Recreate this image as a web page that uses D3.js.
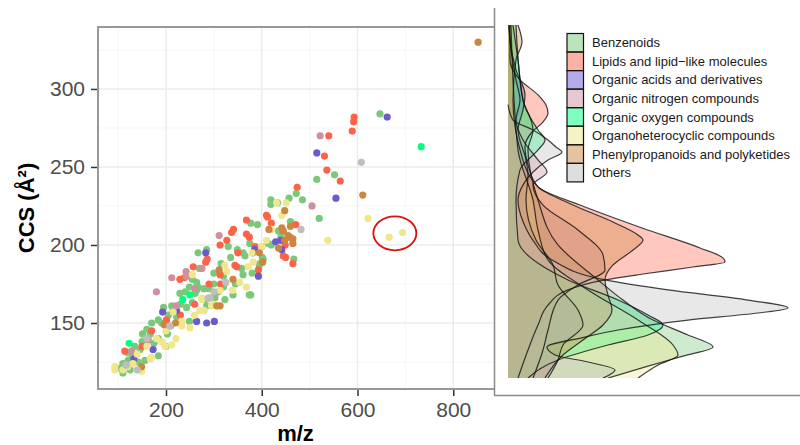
<!DOCTYPE html>
<html>
<head>
<meta charset="utf-8">
<script src="https://d3js.org/d3.v7.min.js"></script>
<style>
  body { margin: 0; background: #fff; }
  svg { font-family: "Liberation Sans", Arial, sans-serif; }
  .grid-major { stroke: #ebebeb; stroke-width: 1.4; }
  .grid-minor { stroke: #f4f4f4; stroke-width: 0.8; }
  .axis text { fill: #4d4d4d; font-size: 21px; }
  .axis line { stroke: #333; stroke-width: 1.5; }
  .axis .domain { display: none; }
</style>
</head>
<body>
<svg id="chart" width="800" height="445"></svg>
<script>
// ---- data ----
const categories = ["Benzenoids", "Lipids and lipid\u2212like molecules", "Organic acids and derivatives",
  "Organic nitrogen compounds", "Organic oxygen compounds", "Organoheterocyclic compounds",
  "Phenylpropanoids and polyketides", "Others"];

const xTicks = [200, 400, 600, 800];
const yTicks = [150, 200, 250, 300];

// scatter points: [m/z, CCS]
const benzenoids = [[647,284],[552,245],[515,242],[472,233],[457,230],[485,229],[419,229],[419,226],[433,227],
  [520,217],[377,214],[391,213],[414,201],[435,209],[401,192],[467,191],[395,187],[377,168],[330,199],
  [375,201],[349,197],[361,195],[365,193],[396,188],[403,191],[358,185],[361,181],[320,180],[374,168],
  [285,197],[267,195],[264,176],[249,173],[267,173],[279,172],[290,172],[309,170],[229,169],[261,169],
  [302,166],[323,165],[264,171],[302,168],[285,161],[212,161],[243,160],[205,155],[191,150],[249,151],
  [222,154],[184,152],[151,143],[167,143],[184,140],[203,143],[184,129],[146,133],[105,121],[125,120],
  [142,125],[156,126],[121,126],[170,150],[195,160],[210,148],[230,162],[240,170],[255,178],[270,185],
  [300,182],[315,188],[335,192],[345,175],[135,135],[150,138],[160,146],[120,131],[110,124],[130,128],
  [175,137],[200,135],[215,158],[255,163],[280,165],[300,175],[320,173],[340,168],[380,182],[420,200],
  [440,205],[460,215],[110,118]];
const lipids = [[593,282],[592,279],[540,270],[589,273],[531,257],[536,248],[564,241],[474,237],[412,218],
  [471,213],[465,188],[450,192],[386,199],[400,199],[449,200],[410,219],[368,216],[341,210],[337,208],
  [368,207],[374,205],[327,203],[313,200],[286,191],[283,189],[257,186],[229,178],[238,179],[313,181],
  [314,175],[344,187],[348,186],[393,184],[201,152],[114,132],[445,193],[260,162],[230,155],[150,135],
  [170,145],[290,175],[350,195],[420,214]];
const organicAcids = [[662,282],[515,259],[555,230],[429,202],[442,197],[381,195],[393,180],[283,195],
  [264,151],[285,150],[301,151],[193,157],[173,133],[133,127],[440,203],[385,197],[222,158]];
const organicNitrogen = [[522,270],[505,225],[311,206],[275,185],[242,183],[243,180],[212,179],[290,166],
  [221,161],[163,139],[128,132],[180,170],[260,172]];
const organicOxygen = [[733,263],[250,168],[235,165],[123,137]];
const organoheterocyclic = [[666,205],[694,208],[622,217],[538,203],[431,227],[451,227],[442,219],[400,199],
  [382,189],[372,186],[323,187],[327,183],[255,181],[354,176],[368,173],[275,166],[313,171],[339,171],
  [275,165],[295,161],[271,158],[215,157],[233,151],[233,148],[250,147],[191,138],[198,135],[212,136],
  [221,140],[93,122],[149,119],[131,124],[167,127],[93,120],[110,120],[120,122],[140,130],[160,135],
  [180,140],[200,145],[260,155],[280,158],[300,162],[170,128],[380,195],[420,210],[410,203]];
const phenylpropanoids = [[852,330],[611,232],[448,222],[415,210],[442,211],[445,209],[455,206],[459,205],
  [465,204],[465,201],[448,203],[435,198],[402,189],[395,195],[311,184],[313,161],[196,149],[149,122],
  [306,161],[220,150],[340,178],[460,212]];
const others = [[608,253],[482,210],[325,176],[288,166],[292,166],[208,148],[117,123],[300,170],[160,140],[140,120]];

const pointSets = [benzenoids, lipids, organicAcids, organicNitrogen, organicOxygen,
  organoheterocyclic, phenylpropanoids, others];

// density profiles of CCS per class: [CCS, density]
const benzenoidsDens = [[341,0.001],[318.6,0.002],[292.9,0.003],[273.7,0.005],[260.9,0.004],[228.8,0.006],
  [200,0.010],[177.6,0.018],[164.7,0.023],[151.9,0.029],[142.3,0.036],[134.6,0.041],[128.8,0.035],
  [122.4,0.028],[114.7,0.020]];
const lipidsDens = [[341,0.0004],[318.6,0.0004],[305.8,0.0024],[296.2,0.006],[289.7,0.0076],[284.6,0.008],
  [278.8,0.007],[272.4,0.0048],[262.8,0.0034],[251.3,0.004],[237.2,0.006],[225.6,0.0144],[210.9,0.0268],
  [198.1,0.0384],[191.7,0.043],[189.1,0.0434],[185.9,0.037],[181.4,0.027],[177.6,0.0194],[171.2,0.012],
  [161.5,0.008],[148.7,0.006],[132.7,0.004],[114.7,0.002]];
const organicAcidsDens = [[341,0.0002],[331.4,0.0004],[312.2,0.0016],[296.2,0.0034],[286.5,0.003],[273.7,0.002],
  [254.5,0.0036],[244.9,0.004],[228.8,0.0036],[203.2,0.0056],[187.2,0.009],[174.4,0.010],[158.3,0.014],
  [148.7,0.015],[135.9,0.011],[126.3,0.010],[114.7,0.008]];
const organicNitrogenDens = [[341,0.0002],[331.4,0.0004],[305.8,0.0016],[292.9,0.0024],[280.1,0.0016],
  [267.3,0.003],[254.5,0.006],[246.8,0.0078],[238.5,0.005],[225.6,0.007],[209.6,0.014],[193.6,0.019],
  [184,0.0194],[174.4,0.014],[164.7,0.010],[145.5,0.008],[132.7,0.007],[114.7,0.005]];
const organicOxygenDens = [[341,0.0016],[292.9,0.003],[273.7,0.006],[267.3,0.0074],[260.9,0.006],[248.1,0.0024],
  [228.8,0.0016],[203.2,0.002],[177.6,0.012],[164.7,0.022],[155.1,0.028],[148.7,0.031],[142.3,0.028],
  [135.9,0.020],[126.3,0.010],[114.7,0.004]];
const organoheterocyclicDens = [[341,0.0006],[260.9,0.002],[228.8,0.005],[209.6,0.006],[190.4,0.008],
  [171.2,0.016],[151.9,0.026],[135.9,0.033],[129.5,0.034],[123.1,0.030],[114.7,0.026]];
const phenylpropanoidsDens = [[341,0.002],[330.1,0.0028],[318.6,0.0016],[292.9,0.001],[260.9,0.0024],
  [237.2,0.006],[225.6,0.013],[214.7,0.021],[206.4,0.026],[203.2,0.027],[196.8,0.025],[187.2,0.021],
  [177.6,0.0194],[167.9,0.020],[158.3,0.0208],[148.7,0.019],[139.1,0.015],[129.5,0.011],[114.7,0.0074]];
const othersDens = [[290,0],[280.1,0.001],[273.7,0.005],[267.3,0.008],[262.8,0.0096],[259.6,0.0108],
  [254.5,0.008],[246.8,0.005],[238.5,0.003],[228.8,0.002],[215,0.003],[203,0.005],[190.4,0.0088],
  [177.6,0.0194],[171.2,0.032],[164.7,0.048],[159.6,0.056],[156.4,0.050],[151.9,0.036],[145.5,0.022],
  [141,0.0154],[134.6,0.0078],[129.5,0.0094],[125,0.016],[119.9,0.0214],[114.7,0.019]];

const densSets = [benzenoidsDens, lipidsDens, organicAcidsDens, organicNitrogenDens, organicOxygenDens,
  organoheterocyclicDens, phenylpropanoidsDens, othersDens];

// ---- styles ----
const pointColors = ["#7bc87b", "#ff6347", "#6a5acd", "#cd919e", "#00ff7f", "#f0e68c", "#cd853f", "#bebebe"];

const svg = d3.select("#chart");
const panel = {left: 98, right: 493, top: 27, bottom: 389};

const xScale = d3.scaleLinear().domain([58, 883]).range([panel.left, panel.right]);
const yScale = d3.scaleLinear().domain([107.7, 339.7]).range([panel.bottom, panel.top]);

// gridlines
const gridG = svg.append("g");
[100, 300, 500, 700].forEach(v => gridG.append("line").attr("class", "grid-minor")
  .attr("x1", xScale(v)).attr("x2", xScale(v)).attr("y1", panel.top).attr("y2", panel.bottom));
[125, 175, 225, 275, 325].forEach(v => gridG.append("line").attr("class", "grid-minor")
  .attr("x1", panel.left).attr("x2", panel.right).attr("y1", yScale(v)).attr("y2", yScale(v)));
xTicks.forEach(v => gridG.append("line").attr("class", "grid-major")
  .attr("x1", xScale(v)).attr("x2", xScale(v)).attr("y1", panel.top).attr("y2", panel.bottom));
yTicks.forEach(v => gridG.append("line").attr("class", "grid-major")
  .attr("x1", panel.left).attr("x2", panel.right).attr("y1", yScale(v)).attr("y2", yScale(v)));

// points
svg.append("clipPath").attr("id", "panelClip").append("rect")
  .attr("x", panel.left).attr("y", panel.top)
  .attr("width", panel.right - panel.left).attr("height", panel.bottom - panel.top);
const pts = svg.append("g").attr("clip-path", "url(#panelClip)");
pointSets.forEach((set, i) => {
  pts.selectAll(null).data(set).enter().append("circle")
    .attr("cx", d => xScale(d[0]))
    .attr("cy", d => yScale(d[1]))
    .attr("r", 3.6)
    .attr("fill", pointColors[i]);
});

// panel border
svg.append("rect")
  .attr("x", panel.left).attr("y", panel.top)
  .attr("width", panel.right - panel.left + 4).attr("height", panel.bottom - panel.top)
  .attr("fill", "none").attr("stroke", "#7f7f7f").attr("stroke-width", 1.6);

// axes
svg.append("g").attr("class", "axis")
  .attr("transform", `translate(${panel.left - 1},0)`)
  .call(d3.axisLeft(yScale).tickValues(yTicks).tickSize(6).tickPadding(6));
svg.append("g").attr("class", "axis")
  .attr("transform", `translate(0,${panel.bottom + 1})`)
  .call(d3.axisBottom(xScale).tickValues(xTicks).tickSize(6).tickPadding(6));

svg.append("text")
  .attr("x", (panel.left + panel.right) / 2).attr("y", 441)
  .attr("text-anchor", "middle").attr("font-weight", "bold").attr("font-size", 22)
  .text("m/z");
svg.append("text")
  .attr("transform", `translate(34,${(panel.top + panel.bottom) / 2}) rotate(-90)`)
  .attr("text-anchor", "middle").attr("font-weight", "bold").attr("font-size", 22)
  .text("CCS (\u00c5\u00b2)");

// highlighted points
svg.append("ellipse")
  .attr("cx", xScale(678)).attr("cy", yScale(207.5))
  .attr("rx", 21.5).attr("ry", 17)
  .attr("fill", "none").attr("stroke", "#e01010").attr("stroke-width", 1.8);

// ---- density panel ----
svg.append("rect").attr("x", 494).attr("y", 0).attr("width", 306).attr("height", 395).attr("fill", "#fff");
svg.append("line").attr("x1", 494.5).attr("x2", 494.5).attr("y1", 8).attr("y2", 395.5)
  .attr("stroke", "#8a8a8a").attr("stroke-width", 1.5);
svg.append("line").attr("x1", 494).attr("x2", 800).attr("y1", 395.5).attr("y2", 395.5)
  .attr("stroke", "#8a8a8a").attr("stroke-width", 1.5);

const dScale = d3.scaleLinear().domain([0, 0.056]).range([508, 788]);
svg.append("clipPath").attr("id", "densClip").append("rect")
  .attr("x", 500).attr("y", 25).attr("width", 300).attr("height", 353);
const densG = svg.append("g").attr("clip-path", "url(#densClip)");
const area = d3.area()
  .y(d => yScale(d[0]))
  .x0(dScale(0))
  .x1(d => dScale(d[1]))
  .curve(d3.curveMonotoneY);
const edge = d3.line()
  .y(d => yScale(d[0]))
  .x(d => dScale(d[1]))
  .curve(d3.curveMonotoneY);
densSets.forEach((set, i) => {
  densG.append("path").attr("d", area(set))
    .attr("fill", pointColors[i]).attr("fill-opacity", 0.36);
});
densSets.forEach((set, i) => {
  densG.append("path").attr("d", edge(set))
    .attr("fill", "none").attr("stroke", "#111").attr("stroke-opacity", 0.8).attr("stroke-width", 1.2);
});

// legend
const keyH = 18.55;
const legend = svg.append("g").attr("transform", "translate(567,33.5)");
categories.forEach((c, i) => {
  legend.append("rect")
    .attr("x", 0).attr("y", i * keyH).attr("width", 16.5).attr("height", keyH)
    .attr("fill", pointColors[i]).attr("fill-opacity", 0.5)
    .attr("stroke", "#111").attr("stroke-width", 1.2);
  legend.append("text")
    .attr("x", 25).attr("y", i * keyH + keyH / 2)
    .attr("dy", "0.35em").attr("font-size", 13).attr("fill", "#1a1a1a")
    .text(c);
});
</script>
</body>
</html>
